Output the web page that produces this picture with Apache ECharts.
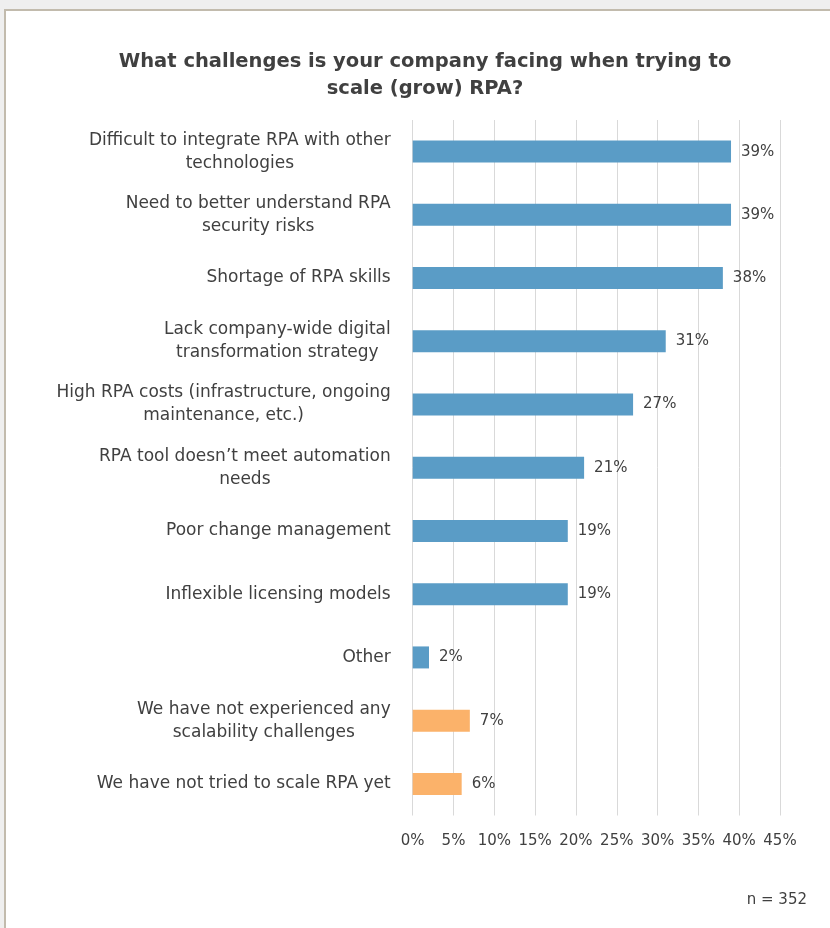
<!DOCTYPE html>
<html>
<head>
<meta charset="utf-8">
<script src="https://cdn.jsdelivr.net/npm/echarts@6/dist/echarts.min.js"></script>
<style>
  html, body { margin: 0; padding: 0; background: #efefef; }
  #frame {
    position: absolute; left: 4px; top: 9px; width: 826px; height: 919px;
    background: #ffffff; border-left: 2px solid #c2bbad; border-top: 2px solid #c2bbad;
    box-sizing: border-box;
  }
  #chart { position: absolute; left: 0; top: 0; width: 830px; height: 928px; }
</style>
</head>
<body>
<div id="frame"></div>
<div id="chart"></div>
<script>
// Survey responses: challenges faced when scaling RPA (share of respondents, %)
const categories = [
  'Difficult to integrate RPA with other\ntechnologies',
  'Need to better understand RPA\nsecurity risks',
  'Shortage of RPA skills',
  'Lack company-wide digital\ntransformation strategy',
  'High RPA costs (infrastructure, ongoing\nmaintenance, etc.)',
  'RPA tool doesn\u2019t meet automation\nneeds',
  'Poor change management',
  'Inflexible licensing models',
  'Other',
  'We have not experienced any\nscalability challenges',
  'We have not tried to scale RPA yet'
];
const values = [39, 39, 38, 31, 27, 21, 19, 19, 2, 7, 6];
// Answers that report no scaling challenge are shown in a second colour
const noChallenge = [false, false, false, false, false, false, false, false, false, true, true];
const xTicks = [0, 5, 10, 15, 20, 25, 30, 35, 40, 45];
const sampleNote = 'n = 352';

const FONT = '"DejaVu Sans", "Open Sans", sans-serif';
const TEXT = '#404040';
const BLUE = '#5a9cc6';
const ORANGE = '#fbb26a';

const chart = echarts.init(document.getElementById('chart'), null, { renderer: 'canvas' });

chart.setOption({
  backgroundColor: 'transparent',
  animation: false,
  textStyle: { fontFamily: FONT },
  title: [
    {
      text: 'What challenges is your company facing when trying to\nscale (grow) RPA?',
      left: 420, top: 43, textAlign: 'center',
      textStyle: { fontFamily: FONT, fontSize: 19.5, fontWeight: 'bold', color: TEXT, lineHeight: 27 }
    },
    {
      text: sampleNote,
      right: 18, top: 888,
      textStyle: { fontFamily: FONT, fontSize: 15, fontWeight: 'normal', color: TEXT }
    }
  ],
  grid: { left: 412.7, right: 50, top: 120, bottom: 112.5, containLabel: false },
  xAxis: {
    type: 'value',
    min: xTicks[0],
    max: xTicks[xTicks.length - 1],
    interval: xTicks[1] - xTicks[0],
    axisLine: { show: false },
    axisTick: { show: false },
    splitLine: { show: true, lineStyle: { color: '#d9d9d9', width: 1 } },
    axisLabel: {
      formatter: v => v + '%',
      color: TEXT, fontFamily: FONT, fontSize: 15, margin: 18
    }
  },
  yAxis: {
    type: 'category',
    data: categories,
    inverse: true,
    axisLine: { show: false },
    axisTick: { show: false },
    splitLine: { show: false },
    axisLabel: {
      margin: 22,
      align: 'right',
      formatter: v => v.split('\n').map(s => '{c|' + s + '}').join('\n'),
      rich: {
        c: { align: 'center', color: TEXT, fontFamily: FONT, fontSize: 17, lineHeight: 23 }
      }
    }
  },
  series: [
    {
      type: 'bar',
      barWidth: 22,
      data: values.map((v, i) => ({
        value: v,
        itemStyle: { color: noChallenge[i] ? ORANGE : BLUE }
      })),
      label: {
        show: true,
        position: 'right',
        distance: 10,
        formatter: p => p.value + '%',
        color: TEXT, fontFamily: FONT, fontSize: 15
      }
    }
  ]
});
</script>
</body>
</html>
